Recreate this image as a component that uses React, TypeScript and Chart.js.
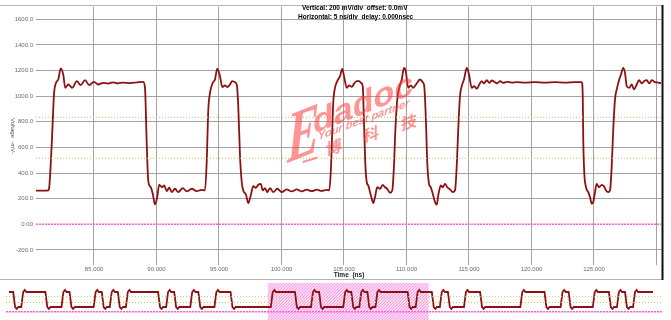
import React, { useEffect, useRef } from "react";
import { Chart, registerables } from "chart.js";

Chart.register(...registerables);

// ---- Main view data (time in ns, voltage in mV) ----
const waveTimes = [
  80.36, 81.0, 81.34, 81.42, 81.62, 81.8, 81.96, 82.14, 82.34, 82.54, 82.7, 82.94, 83.26, 83.62, 83.94, 84.28, 84.62, 85.0, 85.34, 85.74, 86.12, 86.52, 86.92, 87.32, 87.88, 88.44, 88.94,
  89.08, 89.22, 89.34, 89.54, 89.7, 89.88, 90.06, 90.22, 90.42, 90.62, 90.82, 91.02, 91.22, 91.48, 91.74, 92.1, 92.42, 92.82, 93.22, 93.62, 93.88,
  94.02, 94.14, 94.28, 94.5, 94.68, 94.86, 95.08, 95.26, 95.48, 95.66, 95.88, 96.06, 96.22, 96.42,
  96.54, 96.68, 96.82, 96.94, 97.16, 97.34, 97.54, 97.74, 97.94, 98.14, 98.34, 98.5, 98.68, 98.86, 99.08, 99.34, 99.66, 100.02, 100.42, 100.82, 101.22, 101.62, 102.02, 102.42, 102.82, 103.22, 103.62, 103.82,
  103.94, 104.04, 104.14, 104.28, 104.46, 104.68, 104.86, 105.0, 105.22, 105.42, 105.62, 105.82, 106.02, 106.2, 106.36, 106.5,
  106.6, 106.7, 106.82, 106.94, 107.08, 107.26, 107.34, 107.48, 107.66, 107.88, 108.1, 108.28, 108.46, 108.68, 108.86,
  109.0, 109.1, 109.26, 109.42, 109.62, 109.8, 109.94, 110.14, 110.34, 110.54, 110.76, 111.08, 111.3, 111.42,
  111.56, 111.66, 111.8, 111.94, 112.1, 112.28, 112.42, 112.54, 112.74, 112.9, 113.08, 113.26, 113.48, 113.7, 113.88,
  114.02, 114.14, 114.28, 114.42, 114.6, 114.82, 115.0, 115.22, 115.42, 115.62, 115.82, 116.02, 116.2, 116.42, 116.62, 116.82, 117.08, 117.26, 117.48, 117.74, 118.02, 118.42, 118.82, 119.48, 120.28, 121.08, 121.88, 122.68, 123.48, 124.02,
  124.1, 124.14, 124.22, 124.36, 124.54, 124.68, 124.82, 124.94, 125.08, 125.22, 125.4, 125.62, 125.8, 125.96, 126.14, 126.28,
  126.42, 126.54, 126.68, 126.82, 127.02, 127.16, 127.34, 127.48, 127.62, 127.82, 128.02, 128.2, 128.42, 128.6, 128.82, 129.0, 129.22, 129.42, 129.62, 129.88, 130.14, 130.42,
];
const waveVolts = [
  262, 262, 265, 290, 626, 1014, 1104, 1130, 1216, 1169, 1065, 1091, 1065, 1117, 1086, 1125, 1086, 1112, 1091, 1104, 1098, 1108, 1100, 1106, 1102, 1108, 1112,
  1065, 626, 341, 289, 238, 155, 212, 310, 289, 303, 258, 285, 251, 277, 251, 282, 256, 277, 258, 269, 264,
  497, 884, 1026, 1104, 1130, 1214, 1156, 1071, 1084, 1071, 1091, 1117, 1112, 1091,
  923, 535, 328, 264, 230, 165, 225, 297, 285, 308, 316, 264, 282, 251, 282, 251, 277, 251, 272, 256, 272, 256, 270, 258, 270, 260, 268, 264,
  406, 665, 949, 1065, 1117, 1156, 1213, 1156, 1065, 1084, 1073, 1099, 1117, 1117, 1104, 1078,
  794, 483, 328, 303, 251, 186, 165, 212, 289, 277, 308, 289, 277, 246, 264,
  458, 716, 975, 1065, 1130, 1220, 1195, 1065, 1084, 1065, 1091, 1130, 1109, 1078,
  794, 483, 316, 289, 238, 173, 153, 225, 303, 289, 316, 289, 272, 251, 264,
  458, 742, 1001, 1078, 1130, 1220, 1169, 1065, 1078, 1058, 1091, 1117, 1099, 1125, 1104, 1122, 1109, 1099, 1117, 1104, 1112, 1106, 1110, 1106, 1109, 1106, 1109, 1106, 1109, 1109,
  1001, 665, 406, 289, 251, 212, 161, 173, 251, 316, 289, 308, 297, 264, 251, 264,
  458, 742, 975, 1053, 1130, 1169, 1220, 1182, 1078, 1065, 1091, 1053, 1091, 1125, 1099, 1117, 1125, 1099, 1125, 1109, 1106, 1099,
];

const xTickValues = [85, 90, 95, 100, 105, 110, 115, 120, 125, 130];
const yTickValues = [-200, 0, 200, 400, 600, 800, 1000, 1200, 1400, 1600];
const viewWindow = [80.36, 130.36];
const yRange = [-318, 1699];
const thresholdLevels = [835, 515];
const zeroLevel = 0;

const titleLines = [
  "Vertical: 200 mV/div  offset: 0.0mV",
  "Horizontal: 5 ns/div  delay: 0.000nsec",
];
const xAxisTitle = "Time  (ns)";
const yAxisTitle = "Voltage  -mV-";

// ---- Overview strip data ----
const overviewSpan = [0, 200];
const overviewEdges = [
  1.6, 4.1, 11.6, 16.6, 19.1, 26.6, 29.1, 31.6, 34.1, 36.6, 46.6, 49.1, 51.6, 56.6, 59.1, 64.1, 69.1,
  81.6, 89.1, 94.1, 96.6, 104.1, 106.6, 109.1, 111.6, 114.1, 124.1, 126.6, 131.6, 134.1, 136.6, 141.6,
  146.6, 159.1, 166.6, 171.6, 174.1, 181.6, 186.6, 189.1, 191.6, 194.1,
];
const overviewLevels = { high: 1100, low: 265, peak: 1215, dip: 160 };

const WAVE_COLOR = "#8a1212";
const GRID_COLOR = "#a3a3a3";
const THRESH_COLOR = "#c2c26a";
const ZERO_COLOR = "#ff5cd6";
const MARK_COLOR = "rgba(255, 60, 60, 0.55)";
const FONT = "'Liberation Sans', Arial, sans-serif";

function hLine(xMin: number, xMax: number, v: number, color: string, dash: number[], width = 1) {
  return {
    data: [
      { x: xMin, y: v },
      { x: xMax, y: v },
    ],
    borderColor: color,
    borderWidth: width,
    borderDash: dash,
    pointRadius: 0,
    fill: false,
  };
}

const mainDecor = {
  id: "mainDecor",
  afterDraw(chart: any) {
    const ctx = chart.ctx as CanvasRenderingContext2D;
    ctx.save();
    // frame
    ctx.strokeStyle = "#b4b4b4";
    ctx.lineWidth = 1;
    ctx.beginPath();
    ctx.moveTo(0, 5.5);
    ctx.lineTo(662, 5.5);
    ctx.moveTo(0, 279.5);
    ctx.lineTo(662, 279.5);
    ctx.stroke();
    ctx.strokeStyle = "#111";
    ctx.lineWidth = 2;
    ctx.beginPath();
    ctx.moveTo(662.5, 5);
    ctx.lineTo(662.5, 280);
    ctx.stroke();

    // header texts
    ctx.fillStyle = "#000";
    ctx.font = `bold 6.5px ${FONT}`;
    ctx.textBaseline = "middle";
    ctx.textAlign = "left";
    ctx.fillText(titleLines[0], 302, 8);
    ctx.fillText(titleLines[1], 298, 17);

    // x axis title
    ctx.textAlign = "center";
    ctx.fillStyle = "#222";
    ctx.fillText(xAxisTitle, 349, 275.5);

    // y axis title (rotated clockwise)
    ctx.save();
    ctx.translate(12.5, 136);
    ctx.rotate(Math.PI / 2);
    ctx.font = `6px ${FONT}`;
    ctx.fillStyle = "#555";
    ctx.fillText(yAxisTitle, 0, 0);
    ctx.restore();

    // watermark (sheared text)
    ctx.fillStyle = MARK_COLOR;
    ctx.textAlign = "left";
    ctx.textBaseline = "alphabetic";
    ctx.save();
    ctx.transform(1, -0.4, 0, 1, 287, 163);
    ctx.scale(0.68, 1);
    ctx.font = `bold italic 72px 'Liberation Serif', serif`;
    ctx.fillText("E", 0, 0);
    ctx.restore();

    ctx.save();
    ctx.transform(1, -0.4, 0, 1, 313, 134);
    ctx.font = `bold 34px ${FONT}`;
    ctx.fillText("dadoc", 0, 0);
    ctx.restore();

    ctx.save();
    ctx.transform(1, -0.37, 0, 1, 318, 140);
    ctx.font = `bold italic 11px ${FONT}`;
    ctx.fillText("Your best partner", 0, 0);
    ctx.restore();

    const cjk: [string, number, number][] = [
      ["一", 310, 160],
      ["博", 334, 147],
      ["科", 371, 134],
      ["技", 409, 122],
    ];
    ctx.font = `bold 16px 'Noto Sans CJK SC', sans-serif`;
    ctx.textAlign = "center";
    ctx.textBaseline = "middle";
    for (const [ch, cx, cy] of cjk) {
      ctx.save();
      ctx.transform(1, -0.3, 0, 1, cx, cy);
      ctx.fillText(ch, 0, 0);
      ctx.restore();
    }
    ctx.restore();
  },
};

const overviewDecor = {
  id: "overviewDecor",
  beforeDatasetsDraw(chart: any) {
    const ctx = chart.ctx as CanvasRenderingContext2D;
    const xs = chart.scales.x;
    const x0 = xs.getPixelForValue(viewWindow[0]);
    const x1 = xs.getPixelForValue(viewWindow[1]);
    const y0 = 3;
    const y1 = chart.height;
    ctx.save();
    ctx.beginPath();
    ctx.rect(x0, y0, x1 - x0, y1 - y0);
    ctx.clip();
    ctx.fillStyle = "rgba(255, 190, 240, 0.45)";
    ctx.fillRect(x0, y0, x1 - x0, y1 - y0);
    ctx.strokeStyle = "rgba(255, 110, 220, 0.75)";
    ctx.lineWidth = 1;
    ctx.beginPath();
    for (let x = x0 - 60; x < x1 + 60; x += 3) {
      ctx.moveTo(x, y1);
      ctx.lineTo(x + (y1 - y0), y0);
    }
    ctx.stroke();
    ctx.restore();
  },
};

function buildOverviewPoints() {
  const { high, low, peak, dip } = overviewLevels;
  const pts: { x: number; y: number }[] = [{ x: overviewSpan[0], y: high }];
  let level = high;
  overviewEdges.forEach((t, i) => {
    const rising = i % 2 === 1;
    const to = rising ? high : low;
    const ring = rising ? peak : dip;
    pts.push({ x: t - 0.3, y: level });
    pts.push({ x: t + 0.3, y: to });
    pts.push({ x: t + 0.8, y: ring });
    pts.push({ x: t + 1.3, y: to });
    level = to;
  });
  pts.push({ x: overviewSpan[1], y: level });
  return pts;
}

export default function App() {
  const mainRef = useRef<HTMLCanvasElement | null>(null);
  const ovRef = useRef<HTMLCanvasElement | null>(null);

  useEffect(() => {
    Chart.defaults.font.family = FONT;
    const [xMin, xMax] = viewWindow;
    const main = new Chart(mainRef.current as HTMLCanvasElement, {
      type: "line",
      data: {
        datasets: [
          ...thresholdLevels.map((v) => hLine(xMin, xMax + 1, v, THRESH_COLOR, [1, 2])),
          hLine(xMin, xMax + 1, zeroLevel, ZERO_COLOR, [2, 1], 1.3),
          {
            data: waveTimes.map((t, i) => ({ x: t, y: waveVolts[i] })),
            borderColor: WAVE_COLOR,
            borderWidth: 1.8,
            pointRadius: 0,
            fill: false,
            cubicInterpolationMode: "monotone",
          },
        ] as any,
      },
      options: {
        animation: false,
        responsive: false,
        maintainAspectRatio: false,
        events: [],
        layout: { padding: { top: 5, right: 10, left: 0, bottom: 0 } },
        plugins: { legend: { display: false }, tooltip: { enabled: false }, title: { display: false } },
        scales: {
          x: {
            type: "linear",
            min: xMin,
            max: xMax,
            afterBuildTicks: (s: any) => {
              s.ticks = xTickValues.map((v) => ({ value: v }));
            },
            afterFit: (s: any) => {
              s.height = 15;
            },
            grid: { color: GRID_COLOR, drawTicks: false, lineWidth: 1 },
            border: { display: false },
            ticks: {
              autoSkip: false,
              maxRotation: 0,
              padding: 1,
              color: "#6c6c6c",
              font: { size: 6, family: FONT },
              callback: (v: any) => (Number(v) === 130 ? "" : Number(v).toFixed(3)),
            },
          },
          y: {
            type: "linear",
            min: yRange[0],
            max: yRange[1],
            afterBuildTicks: (s: any) => {
              s.ticks = yTickValues.map((v) => ({ value: v }));
            },
            afterFit: (s: any) => {
              s.width = 36;
            },
            grid: {
              color: (c: any) => (c.tick && c.tick.value === 0 ? "rgba(0,0,0,0)" : GRID_COLOR),
              drawTicks: false,
              lineWidth: 1,
            },
            border: { display: false },
            ticks: {
              padding: 3,
              color: "#6c6c6c",
              font: { size: 6, family: FONT },
              callback: (v: any) => (Number(v) === 0 ? "0.00" : Number(v).toFixed(1)),
            },
          },
        },
      } as any,
      plugins: [mainDecor],
    });

    const ovPoints = buildOverviewPoints();
    const ovMin = -0.93;
    const ovMax = 203.1;
    const ov = new Chart(ovRef.current as HTMLCanvasElement, {
      type: "line",
      data: {
        datasets: [
          ...thresholdLevels.map((v) => hLine(ovMin, ovMax, v, THRESH_COLOR, [1, 2])),
          hLine(ovMin, ovMax, zeroLevel, ZERO_COLOR, [2, 1], 1.3),
          {
            data: ovPoints,
            borderColor: WAVE_COLOR,
            borderWidth: 1.8,
            pointRadius: 0,
            fill: false,
          },
        ] as any,
      },
      options: {
        animation: false,
        responsive: false,
        maintainAspectRatio: false,
        events: [],
        layout: { padding: { top: 0, right: 8, left: 6, bottom: 0 } },
        plugins: { legend: { display: false }, tooltip: { enabled: false } },
        scales: {
          x: { type: "linear", min: ovMin, max: ovMax, display: false },
          y: { type: "linear", min: -459, max: 1768, display: false },
        },
      } as any,
      plugins: [overviewDecor],
    });

    return () => {
      main.destroy();
      ov.destroy();
    };
  }, []);

  return (
    <div style={{ position: "absolute", left: 0, top: 0, width: 671, height: 320, background: "#fff" }}>
      <canvas ref={mainRef} width={671} height={280} style={{ position: "absolute", left: 0, top: 0, display: "block" }} />
      <canvas ref={ovRef} width={671} height={40} style={{ position: "absolute", left: 0, top: 280, display: "block" }} />
    </div>
  );
}
